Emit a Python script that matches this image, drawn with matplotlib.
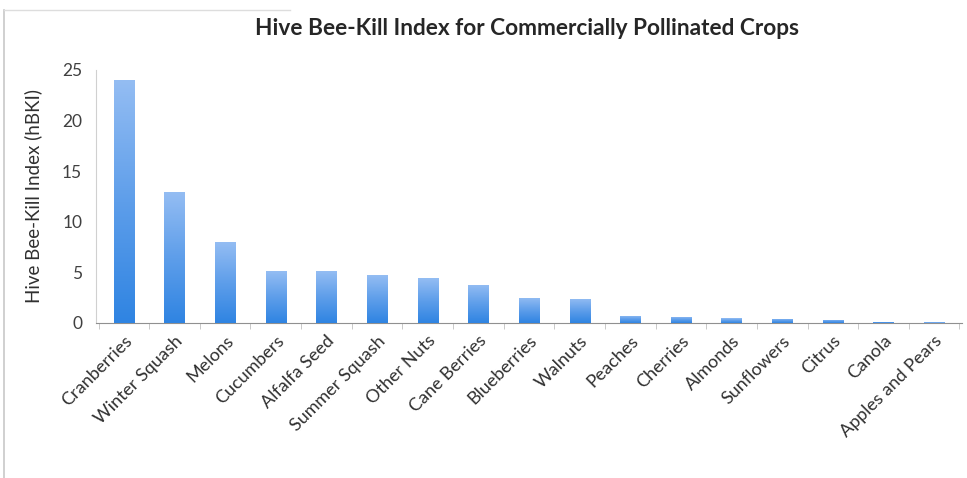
import numpy as np
import matplotlib.pyplot as plt
from matplotlib.colors import LinearSegmentedColormap
from matplotlib.lines import Line2D

plt.rcParams['font.family'] = ['Lato', 'DejaVu Sans']

# Crop names and their hive bee-kill index
crops = ["Cranberries", "Winter Squash", "Melons", "Cucumbers", "Alfalfa Seed",
         "Summer Squash", "Other Nuts", "Cane Berries", "Blueberries", "Walnuts",
         "Peaches", "Cherries", "Almonds", "Sunflowers", "Citrus", "Canola",
         "Apples and Pears"]
hbki = [24.0, 12.9, 8.0, 5.1, 5.1, 4.7, 4.4, 3.8, 2.5, 2.4,
        0.7, 0.6, 0.45, 0.4, 0.3, 0.12, 0.06]
y_ticks = [0, 5, 10, 15, 20, 25]

fig = plt.figure(figsize=(9.67, 4.78), dpi=100)
ax = fig.add_axes([0.0993, 0.3243, 0.8955, 0.5293])

x = np.arange(len(crops))
bars = ax.bar(x, hbki, width=0.4, color='#4f95e6', zorder=2)

# vertical gradient inside each bar: light at top, deeper blue at bottom
grad = LinearSegmentedColormap.from_list('barblue', ['#2f84e2', '#5e9eea', '#94bdf3'])
strip = np.linspace(0, 1, 256).reshape(-1, 1)
for b in bars:
    x0, w, h = b.get_x(), b.get_width(), b.get_height()
    im = ax.imshow(strip, cmap=grad, origin='lower', aspect='auto',
                   extent=[x0, x0 + w, 0, h], zorder=3)
    im.set_clip_path(b)

ax.set_xlim(-0.55, len(crops) - 0.45)
ax.set_ylim(0, 25)
ax.set_yticks(y_ticks)
ax.tick_params(axis='y', length=0, labelsize=12.5, colors='#404040', pad=10)
ax.set_xticks(x)
ax.set_xticklabels(crops, rotation=45, ha='right', rotation_mode='anchor',
                   fontsize=13, color='#303030')
ax.tick_params(axis='x', length=0, pad=7)
ax.set_xticks(np.arange(len(crops) + 1) - 0.5, minor=True)
ax.tick_params(axis='x', which='minor', length=4, color='#c0c0c0')

for side in ['top', 'right']:
    ax.spines[side].set_visible(False)
ax.spines['left'].set_color('#d0d0d0')
ax.spines['bottom'].set_color('#909090')

ax.set_ylabel("Hive Bee-Kill Index (hBKI)", fontsize=13.5, color='#303030', labelpad=14)
fig.text(0.545, 0.941, "Hive Bee-Kill Index for Commercially Pollinated Crops",
         ha='center', va='center', fontsize=16.3, fontweight='bold', color='#262626')

# thin frame lines along the left and top of the chart area
fig.add_artist(Line2D([0.004, 0.004], [0, 0.98], color='#c8c8c8', lw=1.2))
fig.add_artist(Line2D([0.004, 0.3], [0.98, 0.98], color='#dddddd', lw=1))

fig.savefig('out.png', dpi=100)
